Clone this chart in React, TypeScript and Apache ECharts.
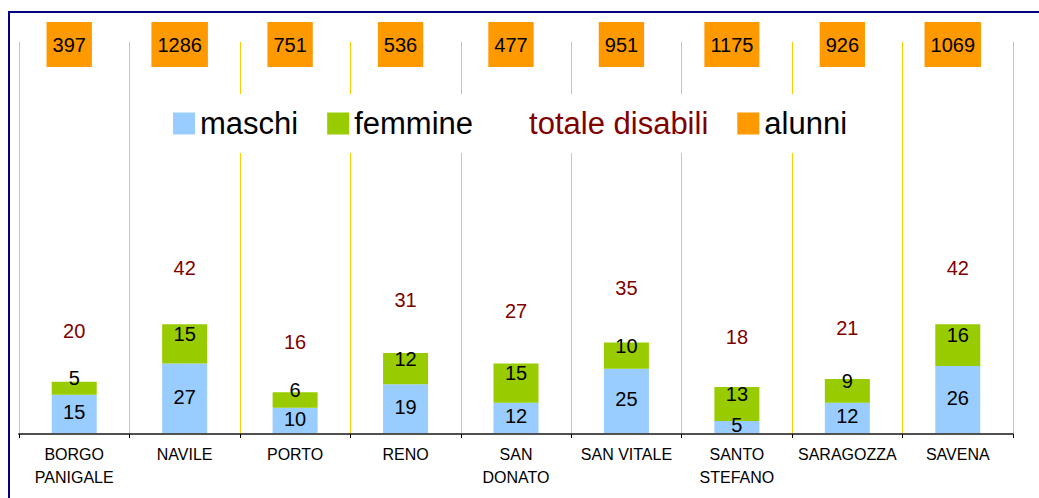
import React, { useEffect, useRef } from "react";
import * as echarts from "echarts";

const categories = [
  "BORGO\nPANIGALE",
  "NAVILE",
  "PORTO",
  "RENO",
  "SAN\nDONATO",
  "SAN VITALE",
  "SANTO\nSTEFANO",
  "SARAGOZZA",
  "SAVENA",
];
const maschi = [15, 27, 10, 19, 12, 25, 5, 12, 26];
const femmine = [5, 15, 6, 12, 15, 10, 13, 9, 16];
const totaleDisabili = [20, 42, 16, 31, 27, 35, 18, 21, 42];
const alunni = [397, 1286, 751, 536, 477, 951, 1175, 926, 1069];

const FONT = "'Liberation Sans', Arial, Helvetica, sans-serif";
const GOLD = "#FFCC00";

export default function App() {
  const ref = useRef<HTMLDivElement>(null);

  useEffect(() => {
    if (!ref.current) return;
    const chart = echarts.init(ref.current, undefined, { renderer: "svg" });
    chart.setOption({
      animation: false,
      backgroundColor: "#ffffff",
      textStyle: { fontFamily: FONT },
      graphic: [
        {
          type: "rect",
          silent: true,
          z: 100,
          shape: { x: 9, y: 12, width: 1200, height: 700 },
          style: { fill: "none", stroke: "#000080", lineWidth: 2 },
        },
      ],
      legend: {
        left: 148,
        top: 94,
        padding: [14, 25, 14, 25],
        backgroundColor: "#ffffff",
        itemWidth: 22,
        itemHeight: 22,
        itemGap: 29,
        selectedMode: false,
        icon: "rect",
        textStyle: { fontSize: 31, color: "#000000", fontFamily: FONT },
        data: [
          { name: "maschi" },
          { name: "femmine" },
          {
            name: "totale disabili",
            icon: "none",
            textStyle: { color: "#800000", fontSize: 31, fontFamily: FONT },
          },
          { name: "alunni" },
        ],
      },
      grid: [
        { left: 19, right: 26, top: 42, bottom: 64, containLabel: false },
        { left: 14, right: 31, top: 42, bottom: 64, containLabel: false },
      ],
      xAxis: [
        {
          type: "category",
          gridIndex: 0,
          data: categories,
          position: "bottom",
          axisLine: { show: true, lineStyle: { color: "#505050", width: 2 } },
          axisTick: {
            show: true,
            interval: 0,
            length: 4,
            lineStyle: { color: "#000000", width: 1 },
          },
          axisLabel: {
            interval: 0,
            fontSize: 16,
            lineHeight: 23,
            margin: 9,
            color: "#000000",
            fontFamily: FONT,
          },
          splitLine: {
            show: true,
            interval: 0,
            lineStyle: { color: GOLD, width: 1 },
          },
          z: 3,
        },
        {
          type: "category",
          gridIndex: 1,
          data: alunni.map((v) => String(v)),
          position: "top",
          axisLine: { show: false },
          axisTick: { show: false },
          splitLine: { show: false },
          axisLabel: {
            interval: 0,
            margin: -25,
            fontSize: 20,
            lineHeight: 21,
            color: "#000000",
            fontFamily: FONT,
            backgroundColor: "#FF9900",
            padding: [12, 6, 12, 6],
          },
        },
        {
          type: "category",
          gridIndex: 0,
          data: categories,
          position: "bottom",
          axisLine: { show: false },
          axisLabel: { show: false },
          splitLine: { show: false },
          axisTick: {
            show: true,
            interval: 0,
            length: 26,
            lineStyle: { color: GOLD, width: 1 },
          },
          z: 1,
        },
      ],
      yAxis: [
        { type: "value", gridIndex: 0, min: 0, max: 150, show: false },
        { type: "value", gridIndex: 0, min: -16, max: 121, show: false },
        { type: "value", gridIndex: 1, min: 0, max: 1500, show: false },
      ],
      series: [
        {
          name: "maschi",
          type: "bar",
          stack: "dis",
          barWidth: 45,
          data: maschi,
          itemStyle: { color: "#99CCFF" },
          label: {
            show: true,
            position: "inside",
            offset: [0, -2],
            fontSize: 20,
            color: "#000000",
            fontFamily: FONT,
          },
        },
        {
          name: "femmine",
          type: "bar",
          stack: "dis",
          barWidth: 45,
          data: femmine,
          itemStyle: { color: "#99CC00" },
          label: {
            show: true,
            position: "inside",
            offset: [0, -10],
            fontSize: 20,
            color: "#000000",
            fontFamily: FONT,
          },
        },
        {
          name: "totale disabili",
          type: "scatter",
          yAxisIndex: 1,
          symbolSize: 1,
          data: totaleDisabili,
          itemStyle: { color: "rgba(0,0,0,0)", opacity: 1 },
          label: {
            show: true,
            position: "inside",
            fontSize: 20,
            color: "#800000",
            opacity: 1,
            fontFamily: FONT,
          },
        },
        {
          name: "alunni",
          type: "scatter",
          xAxisIndex: 1,
          yAxisIndex: 2,
          data: [],
          itemStyle: { color: "#FF9900", opacity: 1 },
        },
      ],
    });
    return () => chart.dispose();
  }, []);

  return (
    <div
      ref={ref}
      style={{ position: "absolute", left: 0, top: 0, width: 1039, height: 498 }}
    />
  );
}
